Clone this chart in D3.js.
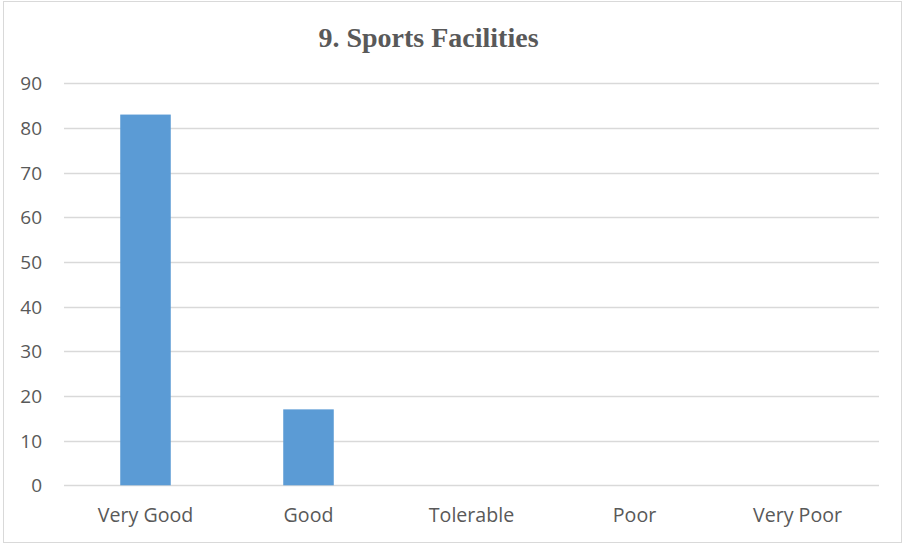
<!DOCTYPE html>
<html><head><meta charset="utf-8">
<script src="https://cdn.jsdelivr.net/npm/d3@7"></script>
<style>html,body{margin:0;padding:0;background:#fff;}</style>
</head><body>
<script>
const categories = ["Very Good", "Good", "Tolerable", "Poor", "Very Poor"];
const values = [83, 17, 0, 0, 0];
const yTicks = [0, 10, 20, 30, 40, 50, 60, 70, 80, 90];
const title = "9. Sports Facilities";

const W = 907, H = 544;
const svg = d3.select("body").append("svg").attr("width", W).attr("height", H);
svg.append("rect").attr("x", 3.5).attr("y", 1.5).attr("width", 898).attr("height", 541)
  .attr("fill", "#fff").attr("stroke", "#d9d9d9").attr("stroke-width", 1);

const pLeft = 64, pRight = 879, pTop = 83.3, pBottom = 485.3;
const x = d3.scaleBand().domain(categories).range([pLeft, pRight]).padding(0);
const y = d3.scaleLinear().domain([0, 90]).range([pBottom, pTop]);

const txt = "#595959";
svg.append("text").attr("x", 428.5).attr("y", 47).attr("text-anchor", "middle")
  .attr("font-family", "Liberation Serif, Times New Roman, serif").attr("font-weight", "bold")
  .attr("font-size", 28).attr("fill", txt).text(title);

const g = svg.append("g");
g.selectAll("line.grid").data(yTicks).enter().append("line")
  .attr("x1", pLeft).attr("x2", pRight)
  .attr("y1", d => Math.round(y(d)) + 0.5).attr("y2", d => Math.round(y(d)) + 0.5)
  .attr("stroke", "#d9d9d9").attr("stroke-width", 1.3);

g.selectAll("text.yt").data(yTicks).enter().append("text")
  .attr("x", 42).attr("y", d => y(d) + 7).attr("text-anchor", "end")
  .attr("font-family", "Open Sans, sans-serif").attr("font-size", 19).attr("fill", txt)
  .text(d => d);

const bw = x.bandwidth() * 0.31;
g.selectAll("rect.bar").data(values).enter().append("rect")
  .attr("x", (d, i) => x(categories[i]) + x.bandwidth() / 2 - bw / 2)
  .attr("width", bw)
  .attr("y", d => y(d)).attr("height", d => y(0) - y(d))
  .attr("fill", "#5b9bd5");

g.selectAll("text.xt").data(categories).enter().append("text")
  .attr("x", d => x(d) + x.bandwidth() / 2).attr("y", 522).attr("text-anchor", "middle")
  .attr("font-family", "Open Sans, sans-serif").attr("font-size", 19.6).attr("fill", txt)
  .text(d => d);
</script>
</body></html>
